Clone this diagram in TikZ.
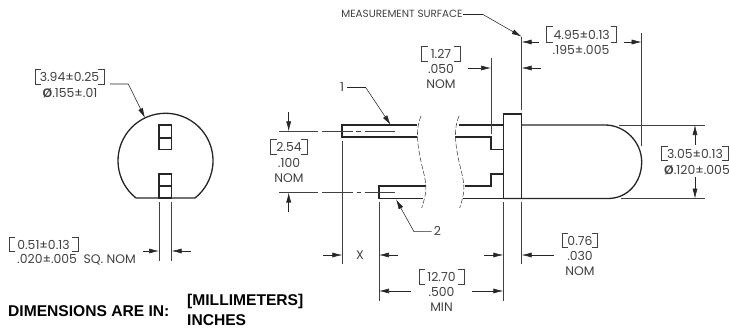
\documentclass[tikz,border=0pt]{standalone}
\usepackage{fontspec}
\setmainfont{Poppins}
\newfontfamily\boldarial{Liberation Sans}
\usetikzlibrary{arrows.meta}
\tikzset{
	outline/.style={line width=1.3pt, black!85},
	dimline/.style={line width=0.55pt, black!75},
	dimarrow/.style={line width=0.55pt, black!85, -{Latex[length=10pt,width=5pt]}},
	breakline/.style={line width=0.55pt, black!75, dash pattern=on 5pt off 2pt},
	dimtext/.style={inner sep=0pt, font=\fontsize{12.4}{14}\selectfont, text=black!75},
	smalltext/.style={inner sep=0pt, font=\fontsize{10.4}{12}\selectfont, text=black!75},
	notetext/.style={inner sep=0pt, font=\fontsize{15.6}{17}\boldarial\bfseries, text=black},
}
\newcommand\Dia{{\boldarial\bfseries Ø}}
\begin{document}
\begin{tikzpicture}[y=-1pt,x=1pt]
	\newcommand\Bracket[4]{(#1+6,#3) -- (#1,#3) -- (#1,#4) -- (#1+6,#4) (#2-6,#3) -- (#2,#3) -- (#2,#4) -- (#2-6,#4)}
	\useasboundingbox (0,0) rectangle (729,329);

	% end view
	\draw[outline] (136,198) arc[start angle=128.4, end angle=411.6, radius=47.5] -- cycle;
	\draw[outline] (159,125) rectangle (171.7,149.3) (159,138) -- (171.7,138);
	\draw[outline] (159,174) rectangle (171.7,198) (159,186) -- (171.7,186);
	\draw[dimline] (159,202) -- (159,261) (171.7,202) -- (171.7,261);
	\draw[dimarrow] (143,251) -- (159,251);
	\draw[dimarrow] (191,251) -- (171.7,251);
	\draw[dimarrow] (110,84) -- (128.3,84) -- (145,118);
	\draw[dimline] \Bracket{35}{104}{69}{84};
	\node[dimtext] (diaa) at (69.5,77) {3.94±0.25};
	\node[dimtext] (diab) at (70,93) {\Dia.155±.01};
	\draw[dimline] \Bracket{9}{78}{237}{251};
	\node[dimtext] (pina) at (43.5,244.5) {0.51±0.13};
	\node[dimtext] (pinb) at (76.5,260) {.020±.005\ \ SQ. NOM};

	% side view, leads
	\draw[outline] (417,125) -- (342,125) -- (342,137) -- (417,137);
	\draw[outline] (426,186) -- (379,186) -- (379,198.3) -- (423,198.3);
	\draw[outline] (455,137) -- (491,137) -- (491,149.7) -- (503.3,149.7);
	\draw[outline] (464.6,186) -- (491,186) -- (491,174) -- (503.3,174);
	\draw[outline] (459,125) -- (503.3,125);
	\draw[outline] (463,198.5) -- (503.3,198.5);
	\draw[breakline] (421,116) .. controls (416,128) and (416,142) .. (423,170) .. controls (427,186) and (427,192) .. (421.7,208);
	\draw[breakline] (459,116) .. controls (454,128) and (454,142) .. (461,170) .. controls (465,186) and (465,192) .. (459.7,208);

	% side view, flange and lens
	\draw[outline] (503.3,198.5) -- (503.3,114) -- (521.7,114) -- (521.7,198.5);
	\draw[outline] (521.7,125) -- (605,125) .. controls (625,125) and (641.7,142) .. (641.7,162) .. controls (641.7,182) and (628,198.5) .. (608,198.5) -- (503.3,198.5);

	% center lines
	\draw[dimline] (279,131.3) -- (318,131.3) (322,131.3) -- (353,131.3) (356,131.3) -- (361,131.3) (365,131.3) -- (395,131.3);
	\draw[dimline] (279,192.5) -- (318,192.5) (322,192.5) -- (353,192.5) (357,192.5) -- (361,192.5) (365,192.5) -- (395,192.5);

	% extension lines
	\draw[dimline] (491,58) -- (491,134);
	\draw[dimline] (521.7,37) -- (521.7,110);
	\draw[dimline] (641.7,33) -- (641.7,146);
	\draw[dimline] (342.3,141) -- (342.3,264);
	\draw[dimline] (379,202) -- (379,301);
	\draw[dimline] (503.3,202) -- (503.3,301);
	\draw[dimline] (521.7,202) -- (521.7,264);
	\draw[dimline] (619,125) -- (705,125);
	\draw[dimline] (621,198.7) -- (705,198.7);

	% dimension arrows
	\draw[dimarrow] (463,14.5) -- (483,14.5) -- (521.7,36.7);
	\draw[dimarrow] (347,87.5) -- (365.7,87.5) -- (390.7,125);
	\draw[dimarrow] (431.7,231.7) -- (414,231.7) -- (396,199.3);
	\draw[dimarrow] (467.7,68) -- (491,68);
	\draw[dimarrow] (541,68) -- (521.7,68);
	\draw[dimarrow] (539,42) -- (521.7,42);
	\draw[dimarrow] (624,42) -- (641.7,42);
	\draw[dimarrow] (695,145) -- (695,125);
	\draw[dimarrow] (695,177) -- (695,198.7);
	\draw[dimarrow] (323,255) -- (342.3,255);
	\draw[dimarrow] (398,255) -- (379,255);
	\draw[dimarrow] (484,255) -- (503.3,255);
	\draw[dimarrow] (554,255) -- (521.7,255);
	\draw[dimarrow] (410.7,291) -- (379,291);
	\draw[dimarrow] (471.7,291) -- (503.3,291);
	\draw[dimarrow] (288.7,112) -- (288.7,131.3);
	\draw[dimarrow] (288.7,211.7) -- (288.7,192.5);

	% labels
	\node[smalltext] (surface) at (402,14) {MEASUREMENT SURFACE};
	\node[dimtext] (leadone) at (342,87) {1};
	\node[dimtext] (leadtwo) at (437.5,231) {2};
	\node[dimtext] (gap) at (360,255) {X};
	\draw[dimline] \Bracket{421.7}{460}{46}{61};
	\node[dimtext] (stepa) at (441,53.5) {1.27};
	\node[dimtext] (stepb) at (441,69) {.050};
	\node[dimtext] (stepc) at (441,84) {NOM};
	\draw[dimline] \Bracket{546.7}{616.7}{26}{42.7};
	\node[dimtext] (lensa) at (581.7,35) {4.95±0.13};
	\node[dimtext] (lensb) at (581,50) {.195±.005};
	\draw[dimline] \Bracket{661.7}{728}{146}{160.7};
	\node[dimtext] (bodya) at (695,154) {3.05±0.13};
	\node[dimtext] (bodyb) at (697,170) {\Dia.120±.005};
	\draw[dimline] \Bracket{562}{597.7}{233}{247};
	\node[dimtext] (flangea) at (580,240.5) {0.76};
	\node[dimtext] (flangeb) at (580,256) {.030};
	\node[dimtext] (flangec) at (580,271) {NOM};
	\draw[dimline] \Bracket{419}{464}{269}{284};
	\node[dimtext] (lengtha) at (441.5,276.5) {12.70};
	\node[dimtext] (lengthb) at (441.5,292) {.500};
	\node[dimtext] (lengthc) at (441.5,307) {MIN};
	\draw[dimline] \Bracket{270.7}{307}{139}{154};
	\node[dimtext] (pitcha) at (289,147) {2.54};
	\node[dimtext] (pitchb) at (289,162.7) {.100};
	\node[dimtext] (pitchc) at (289,178) {NOM};
	\node[notetext, anchor=west] (notea) at (8,311) {DIMENSIONS ARE IN:};
	\node[notetext, anchor=west] (noteb) at (187,301.5) {[MILLIMETERS]};
	\node[notetext, anchor=west] (notec) at (187,320) {INCHES};
\end{tikzpicture}
\end{document}
